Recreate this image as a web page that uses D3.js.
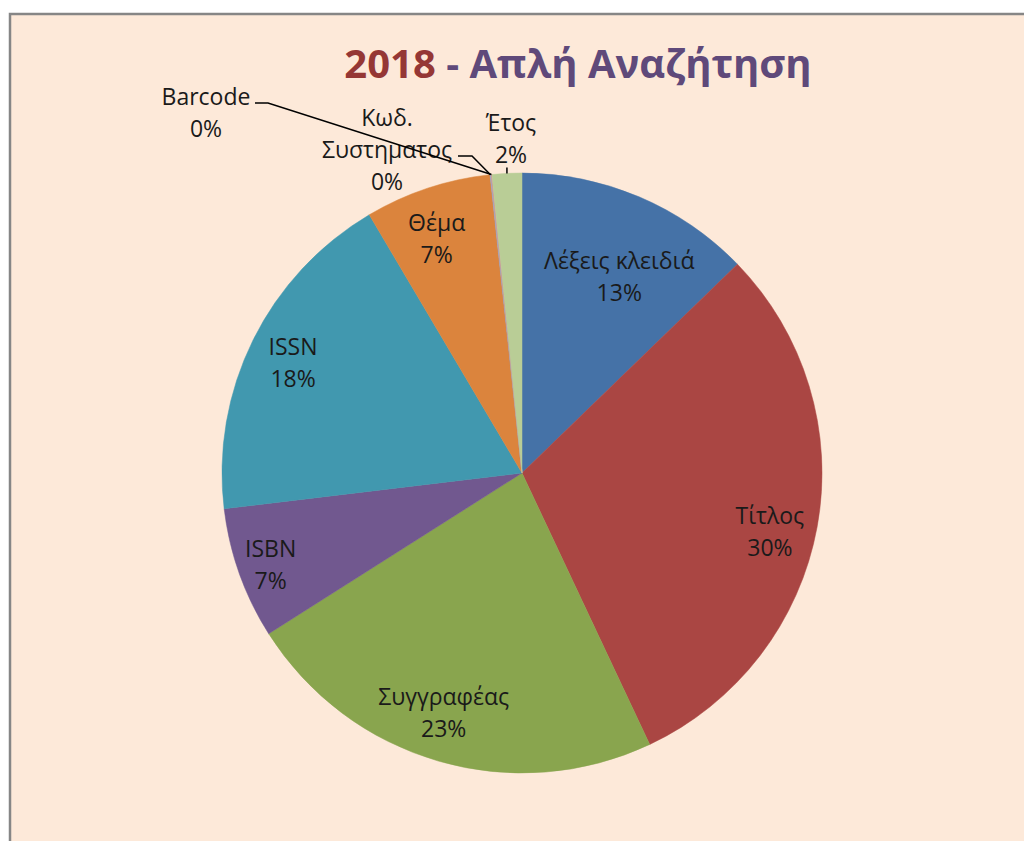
<!DOCTYPE html>
<html>
<head>
<meta charset="utf-8">
<script src="https://cdn.jsdelivr.net/npm/d3@7"></script>
<style>
  html, body { margin: 0; padding: 0; background: #ffffff; }
  svg { display: block; }
</style>
</head>
<body>
<svg id="chart" width="1024" height="841"></svg>
<script>
// ---- data ----
const categories = ["Λέξεις κλειδιά", "Τίτλος", "Συγγραφέας", "ISBN", "ISSN", "Θέμα", "Κωδ. Συστηματος", "Barcode", "Έτος"];
const values = [12.75, 30.25, 23.0, 7.1, 18.4, 6.8, 0.05, 0.05, 1.6];
const colors = ["#4572A7", "#AA4643", "#89A54E", "#71588F", "#4198AF", "#DB843D", "#93A9CF", "#D19392", "#B9CD96"];
const titleYear = "2018";
const titleRest = " - Απλή Αναζήτηση";

// ---- layout ----
const W = 1024, H = 841;
const cx = 522, cy = 473, R = 300;
const font = "'Open Sans', 'Noto Sans', sans-serif";
const fontSize = 23;
const lineH = 32;

const svg = d3.select("#chart");

// background + frame
svg.append("rect").attr("x", 10).attr("y", 14).attr("width", W + 20).attr("height", H + 20)
  .attr("fill", "#FDE9D9").attr("stroke", "#868686").attr("stroke-width", 2.5);

// title
const title = svg.append("text")
  .attr("x", 578).attr("y", 78)
  .attr("text-anchor", "middle")
  .attr("font-family", font).attr("font-weight", "bold").attr("font-size", 40);
title.append("tspan").attr("fill", "#953735").text(titleYear);
title.append("tspan").attr("fill", "#5F497A").text(titleRest);

// pie
const total = d3.sum(values);
const data = categories.map((c, i) => ({ name: c, value: values[i], color: colors[i] }));
const pie = d3.pie().value(d => d.value).sort(null);
const arcs = pie(data);
const arc = d3.arc().innerRadius(0).outerRadius(R);

const g = svg.append("g").attr("transform", `translate(${cx},${cy})`);
g.selectAll("path.slice").data(arcs).enter().append("path")
  .attr("class", "slice")
  .attr("d", arc)
  .attr("fill", d => d.data.color)
  .attr("stroke", d => d.data.color)
  .attr("stroke-width", 0.5);

const pct = d => Math.round(d.value / total * 100) + "%";
const mid = d => (d.startAngle + d.endAngle) / 2;
const polar = (a, r) => [Math.sin(a) * r, -Math.cos(a) * r];

// inside labels (radius-based with small fit adjustments)
const labelR = 252;
const nudge = {
  "Λέξεις κλειδιά": [-1, 36], "Τίτλος": [0, 14], "Συγγραφέας": [-8, -2],
  "ISBN": [-14, 7], "ISSN": [-3, 2], "Θέμα": [-6, 5]
};
// outside labels: label block centres (relative to pie centre) for the thin slices
const outside = {
  "Κωδ. Συστηματος": { lines: ["Κωδ.", "Συστηματος"], pos: [-135, -323], elbow: [-50, -317], elbowLen: 14 },
  "Barcode": { lines: ["Barcode"], pos: [-316, -360], elbow: [-254, -370], elbowLen: 13 },
  "Έτος": { lines: ["Έτος"], pos: [-11, -334], tick: true }
};

const labels = svg.append("g").attr("font-family", font).attr("font-size", fontSize)
  .attr("fill", "#1a1a1a").attr("text-anchor", "middle");

arcs.forEach(d => {
  const name = d.data.name;
  const o = outside[name];
  let lines, x, y;
  if (o) {
    lines = o.lines.concat([pct(d)]);
    x = cx + o.pos[0];
    y = cy + o.pos[1];
    const edge = polar(mid(d), R);
    if (o.tick) {
      svg.append("line")
        .attr("x1", cx + edge[0]).attr("x2", cx + edge[0])
        .attr("y1", cy + edge[1] - 6).attr("y2", cy + edge[1])
        .attr("stroke", "#000").attr("stroke-width", 1.5);
    } else {
      const ex = cx + o.elbow[0], ey = cy + o.elbow[1];
      svg.append("polyline")
        .attr("points", [[ex - o.elbowLen, ey], [ex, ey], [cx + edge[0], cy + edge[1]]].map(p => p.join(",")).join(" "))
        .attr("fill", "none").attr("stroke", "#000").attr("stroke-width", 1.5);
    }
  } else {
    const p = polar(mid(d), labelR);
    const n = nudge[name] || [0, 0];
    lines = [name, pct(d)];
    x = cx + p[0] + n[0];
    y = cy + p[1] + n[1];
  }
  const t = labels.append("text").attr("x", x).attr("y", y - (lines.length - 1) * lineH / 2 + 8);
  lines.forEach((l, i) => {
    t.append("tspan").attr("x", x).attr("dy", i === 0 ? 0 : lineH).text(l);
  });
});
</script>
</body>
</html>
